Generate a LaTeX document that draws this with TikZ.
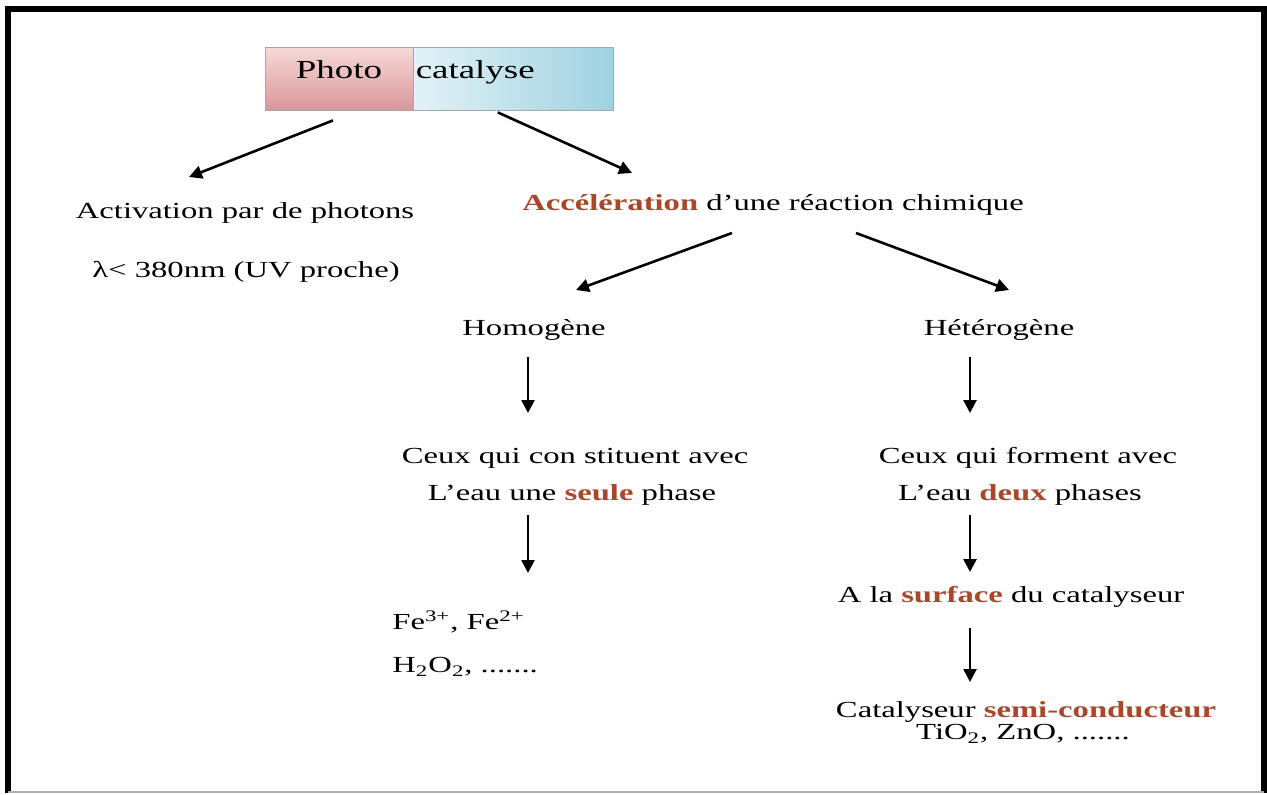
\documentclass[tikz,border=0pt]{standalone}
\usepackage{fontspec}
\setmainfont{Liberation Serif}[FakeStretch=1.42]
\usetikzlibrary{positioning,arrows.meta}
\definecolor{Rust}{HTML}{A8482A}
\definecolor{PinkTop}{HTML}{F6D9D9}
\definecolor{PinkBot}{HTML}{D9979A}
\definecolor{BlueTop}{HTML}{E2F2F7}
\definecolor{BlueBot}{HTML}{9FD2E1}
\newcommand{\hl}[1]{\textcolor{Rust}{\bfseries #1}}

\begin{document}
\begin{tikzpicture}[x=0.5pt, y=-0.5pt,
  txt/.style={font=\fontsize{11.5}{13.5}\selectfont, inner sep=1pt},
  arr/.style={line width=1.3pt, -{Triangle[length=6.5pt, width=6.5pt]}},
  titlebox/.style={draw=gray!70, minimum height=31.5pt, inner sep=0pt, text height=8pt, text depth=8.5pt, font=\fontsize{13}{15}\selectfont}]
\useasboundingbox (0,0) rectangle (1267,794);
% frame
\draw[line width=3pt] (8,793) -- (8,9) -- (1264,9) -- (1264,793);
\draw[gray!60, line width=1pt] (8,792) -- (1264,792);

% title
\node[titlebox, top color=PinkTop, bottom color=PinkBot, minimum width=74pt] (photo) at (339,78.5) {Photo};
\node[titlebox, left color=BlueTop, right color=BlueBot, minimum width=100pt, text width=98pt, inner xsep=1pt, align=left, right=0pt of photo] (cata) {catalyse};

% first level
\node[txt] (activ) at (245,213) {Activation par de photons};
\node[txt] (lambda) at (246,272) {λ< 380nm (UV proche)};
\node[txt] (accel) at (773,205) {\hl{Accélération} d’une réaction chimique};

% two branches
\node[txt] (homo) at (534,330) {Homogène};
\node[txt] (hetero) at (999,330) {Hétérogène};

\node[txt] (cons) at (575,458) {Ceux qui con stituent avec};
\node[txt] (seule) at (572,495) {L’eau une \hl{seule} phase};
\node[txt] (forme) at (1028,458) {Ceux qui forment avec};
\node[txt] (deux) at (1020,495) {L’eau \hl{deux} phases};

\node[txt, anchor=west] (fe) at (390,622) {Fe\textsuperscript{3+}, Fe\textsuperscript{2+}};
\node[txt, anchor=west] (hperox) at (390,667) {H\textsubscript{2}O\textsubscript{2}, .......};

\node[txt] (surf) at (1011,597) {A la \hl{surface} du catalyseur};
\node[txt] (semi) at (1026,712) {Catalyseur \hl{semi-conducteur}};
\node[txt] (tio) at (1023,734) {TiO\textsubscript{2}, ZnO, .......};

% arrows
\draw[arr] ([shift={(-6,10)}]photo.south) -- ([shift={(-56,-36)}]activ.center);
\draw[arr] ([shift={(-16,2)}]cata.south) -- ([shift={(-141,-32)}]accel.center);
\draw[arr] ([shift={(-41,28)}]accel.center) -- ([shift={(42,-40)}]homo.center);
\draw[arr] ([shift={(83,28)}]accel.center) -- ([shift={(10,-40)}]hetero.center);
\draw[arr] ([shift={(-6,27)}]homo.center) -- ([shift={(-47,-45)}]cons.center);
\draw[arr] ([shift={(-29,27)}]hetero.center) -- ([shift={(-58,-45)}]forme.center);
\draw[arr] ([shift={(-44,20)}]seule.center) -- ([shift={(138,-49)}]fe.west);
\draw[arr] ([shift={(-50,20)}]deux.center) -- ([shift={(-41,-25)}]surf.center);
\draw[arr] ([shift={(-41,31)}]surf.center) -- ([shift={(-56,-30)}]semi.center);
\end{tikzpicture}
\end{document}
